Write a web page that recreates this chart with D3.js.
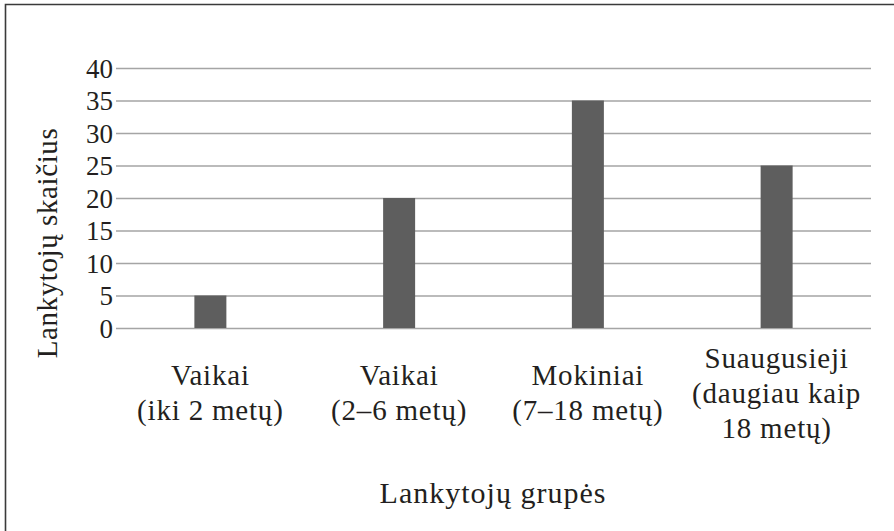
<!DOCTYPE html>
<html>
<head>
<meta charset="utf-8">
<script src="https://cdn.jsdelivr.net/npm/d3@7"></script>
<style>
  html, body { margin: 0; padding: 0; background: #fff; }
  svg { display: block; }
  text { font-family: "Liberation Serif", "Times New Roman", serif; fill: #231f20; }
</style>
</head>
<body>
<div id="chart"></div>
<script>
// data
const categories = [
  ['Vaikai', '(iki 2 metų)'],
  ['Vaikai', '(2–6 metų)'],
  ['Mokiniai', '(7–18 metų)'],
  ['Suaugusieji', '(daugiau kaip', '18 metų)']
];
const values = [5, 20, 35, 25];
const yTicks = [0, 5, 10, 15, 20, 25, 30, 35, 40];
const xTitle = 'Lankytojų grupės';
const yTitle = 'Lankytojų skaičius';

const width = 894, height = 531;
const plot = { left: 116, right: 871, top: 68, bottom: 328 };

const svg = d3.select('#chart').append('svg')
  .attr('width', width).attr('height', height);

// frame (only top and left edges visible in crop)
svg.append('path')
  .attr('d', `M5.5,${height} V4.5 H${width}`)
  .attr('fill', 'none').attr('stroke', '#3a3a3a').attr('stroke-width', 1.6);

const x = d3.scaleBand().domain(d3.range(categories.length))
  .range([plot.left, plot.right]);
const y = d3.scaleLinear().domain([0, 40]).range([plot.bottom, plot.top]);

// gridlines + tick labels via axis
const yAxis = svg.append('g')
  .attr('transform', `translate(${plot.left},0)`)
  .call(d3.axisLeft(y).tickValues(yTicks).tickSize(-(plot.right - plot.left)).tickPadding(3));
yAxis.select('.domain').remove();
yAxis.selectAll('.tick line').attr('stroke', '#a5a5a5').attr('stroke-width', 1.5);
yAxis.selectAll('.tick text')
  .attr('font-family', '"Liberation Serif", serif')
  .attr('font-size', 27).attr('fill', '#231f20').attr('dy', '0.34em');

// bars
const barW = 32;
svg.append('g').selectAll('rect')
  .data(values).join('rect')
  .attr('x', (d, i) => x(i) + x.bandwidth() / 2 - barW / 2)
  .attr('y', d => y(d))
  .attr('width', barW)
  .attr('height', d => y(0) - y(d))
  .attr('fill', '#5e5e5e');

// category labels
const lineH = 35, labelMid = 402.5;
const lab = svg.append('g').selectAll('text')
  .data(categories).join('text')
  .attr('text-anchor', 'middle')
  .attr('font-size', 29)
  .attr('letter-spacing', 0.8)
  .attr('x', (d, i) => x(i) + x.bandwidth() / 2);
lab.selectAll('tspan')
  .data(d => d.map((t, j) => ({ t, j, n: d.length })))
  .join('tspan')
  .attr('x', function () { return d3.select(this.parentNode).attr('x'); })
  .attr('y', d => labelMid + (d.j - (d.n - 1) / 2) * lineH)
  .text(d => d.t);

// axis titles
svg.append('text')
  .attr('x', 493).attr('y', 503)
  .attr('text-anchor', 'middle').attr('font-size', 30).attr('letter-spacing', 1)
  .text(xTitle);

svg.append('text')
  .attr('transform', 'translate(57,243) rotate(-90)')
  .attr('text-anchor', 'middle').attr('font-size', 29).attr('letter-spacing', 0.6)
  .text(yTitle);
</script>
</body>
</html>
